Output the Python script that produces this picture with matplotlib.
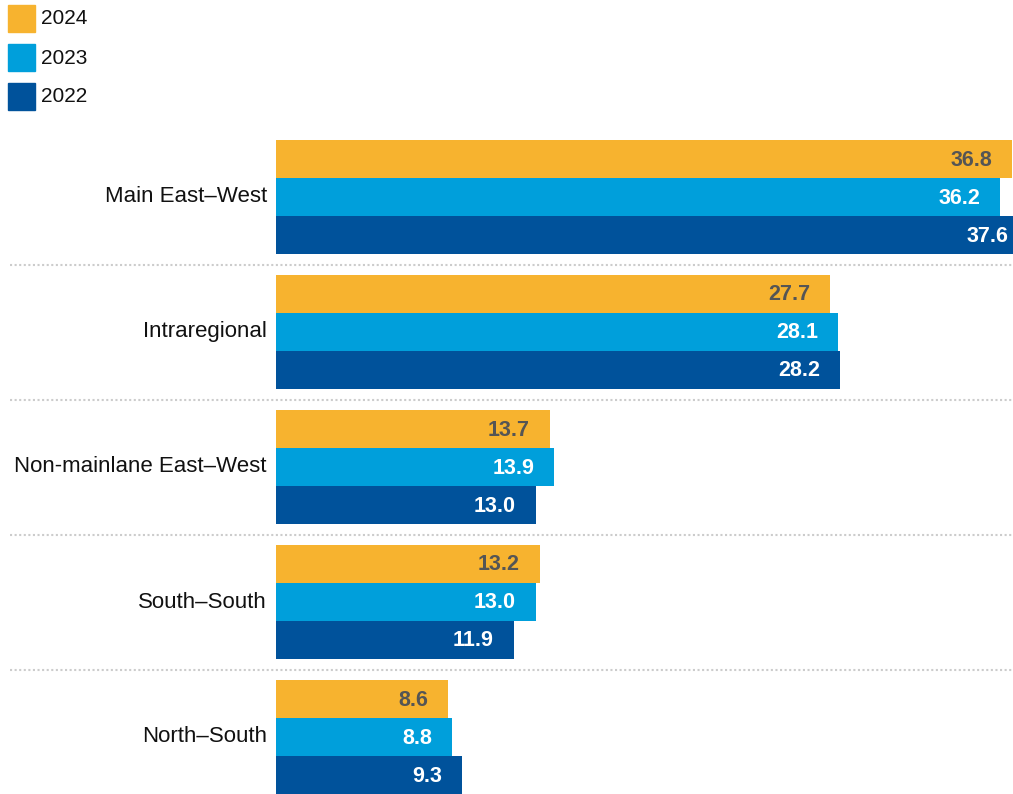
import matplotlib
matplotlib.use("Agg")
import matplotlib.pyplot as plt
from matplotlib.patches import Rectangle

# data
categories = ["Main East\u2013West", "Intraregional", "Non-mainlane East\u2013West",
              "South\u2013South", "North\u2013South"]
years = ["2024", "2023", "2022"]
values_2024 = [36.8, 27.7, 13.7, 13.2, 8.6]
values_2023 = [36.2, 28.1, 13.9, 13.0, 8.8]
values_2022 = [37.6, 28.2, 13.0, 11.9, 9.3]

colors = ["#F7B32F", "#009FDB", "#00529B"]
label_colors = ["#555555", "white", "white"]

plt.rcParams['font.family'] = ['Liberation Sans', 'DejaVu Sans']

W, H = 1013, 794
fig = plt.figure(figsize=(W / 100, H / 100), dpi=100)
ax = fig.add_axes([0, 0, 1, 1])
ax.axis('off')

# axes in pixel-like units: 20 px per value unit, zero at x=276
px_per_unit = 20.0
x0 = 276
ax.set_xlim(-x0 / px_per_unit, (W - x0) / px_per_unit)
ax.set_ylim(H, 0)

bar_h = 38
group_step = 135
first_top = 140

series = [values_2024, values_2023, values_2022]
for i, cat in enumerate(categories):
    top = first_top + i * group_step
    for j, vals in enumerate(series):
        yc = top + bar_h * (j + 0.5)
        ax.barh(yc, vals[i], height=bar_h, color=colors[j], left=0)
        ax.text(vals[i] - 1.0, yc + 1, f"{vals[i]:.1f}", ha='right', va='center',
                fontsize=15.5, fontweight='bold', color=label_colors[j])
    ax.text(-0.45, top + bar_h * 1.5, cat, ha='right', va='center',
            fontsize=16, color='#111111')
    if i < len(categories) - 1:
        ysep = top + 3 * bar_h + 10.5
        ax.plot([10 / px_per_unit - x0 / px_per_unit, (W - x0) / px_per_unit], [ysep, ysep],
                color='#cccccc', lw=1.5, linestyle=(0, (1, 1.2)))

# legend in the top-left corner
for k, yr in enumerate(years):
    ty = 5 + k * 39
    fig.patches.append(Rectangle((8 / W, 1 - (ty + 27) / H), 27 / W, 27 / H,
                                 transform=fig.transFigure, color=colors[k]))
    fig.text(41 / W, 1 - (ty + 14) / H, yr, ha='left', va='center',
             fontsize=15, color='#111111')

fig.savefig("out.png", dpi=100)
